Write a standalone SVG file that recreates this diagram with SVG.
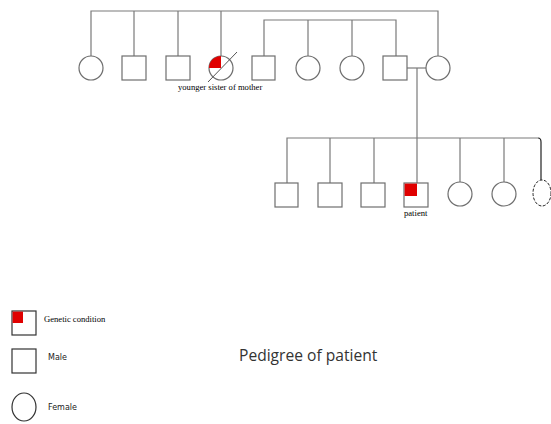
<svg xmlns="http://www.w3.org/2000/svg" width="551" height="424" viewBox="0 0 551 424">
<style>
.ln{stroke:#7a7a7a;stroke-width:1.2;fill:none}
.sh{stroke:#6e6e6e;stroke-width:1.2;fill:#fff}
.lg{stroke:#333;stroke-width:1.2;fill:#fff}
.red{fill:#e00000;stroke:none}
.lab{font-family:"Liberation Serif",serif;font-size:8.6px;fill:#000}
.leg{font-family:"Liberation Serif",serif;font-size:8.6px;fill:#000}
.legs{font-family:"DejaVu Sans",sans-serif;font-size:8px;fill:#222}
.title{font-family:"Open Sans","Liberation Sans",sans-serif;font-size:15.6px;fill:#333}
</style>
<rect width="551" height="424" fill="#fff"/>
<g id="connectors">
<polyline class="ln" points="91,56 91,11 438,11 438,56"/>
<line class="ln" x1="134" y1="11" x2="134" y2="56"/>
<line class="ln" x1="178" y1="11" x2="178" y2="56"/>
<line class="ln" x1="221" y1="11" x2="221" y2="56"/>
<polyline class="ln" points="264,56 264,20 396,20 396,56"/>
<line class="ln" x1="308" y1="20" x2="308" y2="56"/>
<line class="ln" x1="352" y1="20" x2="352" y2="56"/>
<line class="ln" x1="407" y1="68" x2="426" y2="68"/>
<line class="ln" x1="417" y1="68" x2="417" y2="138"/>
<polyline class="ln" points="287,183 287,138 538,138"/>
<path d="M538,138 Q541,138 541,142 L541,180" stroke="#222" stroke-width="1.2" fill="none"/>
<line class="ln" x1="330" y1="138" x2="330" y2="183"/>
<line class="ln" x1="374" y1="138" x2="374" y2="183"/>
<line class="ln" x1="417" y1="138" x2="417" y2="183"/>
<line class="ln" x1="460" y1="138" x2="460" y2="182"/>
<line class="ln" x1="504" y1="138" x2="504" y2="182"/>
</g>
<g id="n1"><circle class="sh" cx="91" cy="68" r="12"/></g>
<g id="n2"><rect class="sh" x="122" y="56" width="24" height="24"/></g>
<g id="n3"><rect class="sh" x="166" y="56" width="24" height="24"/></g>
<g id="n4">
<circle class="sh" cx="221" cy="68" r="12"/>
<path class="red" d="M221,68 L209,68 A12,12 0 0 1 221,56 Z"/>
<line x1="208" y1="82" x2="237" y2="52" stroke="#555" stroke-width="1"/>
<text class="lab" x="178" y="90">younger sister of mother</text>
</g>
<g id="n5"><rect class="sh" x="252" y="56" width="23" height="24"/></g>
<g id="n6"><circle class="sh" cx="308" cy="68" r="12"/></g>
<g id="n7"><circle class="sh" cx="352" cy="68" r="12"/></g>
<g id="n8"><rect class="sh" x="383" y="56" width="24" height="24"/></g>
<g id="n9"><circle class="sh" cx="438" cy="68" r="12"/></g>
<g id="c1"><rect class="sh" x="275" y="183" width="23" height="24"/></g>
<g id="c2"><rect class="sh" x="318" y="183" width="24" height="24"/></g>
<g id="c3"><rect class="sh" x="361" y="183" width="24" height="24"/></g>
<g id="patient">
<rect class="sh" x="404" y="183" width="24" height="24"/>
<rect class="red" x="404.6" y="183.6" width="12.4" height="12.4"/>
<text class="lab" x="404" y="216">patient</text>
</g>
<g id="c5"><circle class="sh" cx="460" cy="194" r="12"/></g>
<g id="c6"><circle class="sh" cx="504" cy="194" r="12"/></g>
<g id="c7"><ellipse cx="542" cy="193" rx="9" ry="13" fill="#fff" stroke="#222" stroke-width="1" stroke-dasharray="3,1.5"/></g>
<g id="legend-genetic">
<rect class="lg" x="12" y="311" width="24" height="24"/>
<rect class="red" x="12.6" y="311.6" width="10.4" height="11.4"/>
<text class="leg" x="44" y="322">Genetic condition</text>
</g>
<g id="legend-male">
<rect class="lg" x="12" y="349" width="24" height="24"/>
<text class="legs" x="48" y="360">Male</text>
</g>
<g id="legend-female">
<ellipse class="lg" cx="24" cy="407" rx="12" ry="14"/>
<text class="legs" x="48" y="410">Female</text>
</g>
<text class="title" x="239" y="361">Pedigree of patient</text>
</svg>
